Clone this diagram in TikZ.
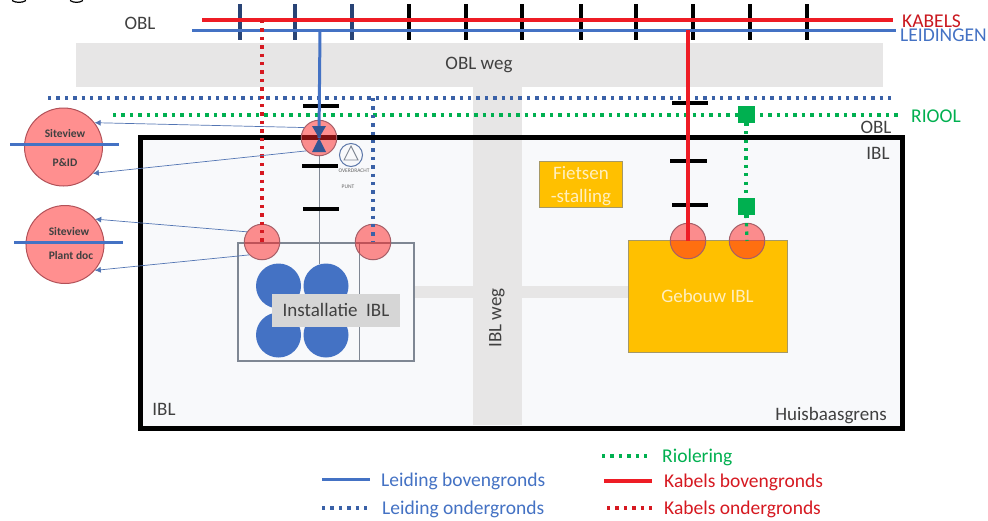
\documentclass[tikz,border=0pt]{standalone}
\usepackage{fontspec}
\setmainfont{Carlito}
\usetikzlibrary{arrows.meta}
\definecolor{cblue}{HTML}{4472C4}
\definecolor{cred}{HTML}{EE1C25}
\definecolor{cgreen}{HTML}{00B050}
\definecolor{croad}{HTML}{E7E6E6}
\definecolor{cgold}{HTML}{FFC000}
\definecolor{cpink}{HTML}{FF8F8F}
\definecolor{chub}{HTML}{FF2020}
\definecolor{ctext}{HTML}{404040}
\definecolor{cedge}{HTML}{7F8793}
\definecolor{cyard}{HTML}{F8F9FB}
\tikzset{
 x=1pt,y=-1pt,
 road/.style={fill=croad,draw=none,inner sep=0},
 lab/.style={font=\fontsize{19}{19}\selectfont,text=ctext,inner sep=0},
 solidblue/.style={draw=cblue,line width=3pt},
 solidred/.style={draw=cred,line width=3.4pt},
 dotline/.style={line width=3.3pt,dash pattern=on 3.3pt off 5.1pt},
 dotblue/.style={dotline,draw=cblue!85!black},
 dotred/.style={dotline,draw=cred!90!black},
 dotgreen/.style={dotline,draw=cgreen},
 bar/.style={draw=black,line width=3.4pt},
 blbar/.style={draw=cblue!60!black,line width=3.4pt},
 hub/.style={circle,draw=cedge!70!red,line width=1pt,fill=chub,fill opacity=.5,draw opacity=1,minimum size=35.5pt,inner sep=0},
 side/.style={circle,draw=cedge!60!red,line width=1pt,fill=cpink,minimum size=78pt,inner sep=0},
 sitelink/.style={draw=cblue!75!gray,line width=.7pt,-{Latex[length=6pt,width=6pt]}},
 sitetxt/.style={font=\bfseries\fontsize{11.5}{12}\selectfont,text=ctext,inner sep=0},
 legendtxt/.style={font=\fontsize{19.5}{20}\selectfont,inner sep=0,anchor=west},
 goldbox/.style={fill=cgold,draw=cedge!70!cgold,line width=.8pt,inner sep=0},
 paletxt/.style={font=\fontsize{19}{19}\selectfont,text=white!75!cgold,inner sep=0},
 greenbox/.style={fill=cgreen,draw=none,minimum size=17pt,inner sep=0}
}
\begin{document}
\begin{tikzpicture}
\useasboundingbox (0,0) rectangle (988,520);
\fill[white] (0,0) rectangle (988,520);
% clipped descenders at the top edge
\draw[line width=1.2pt] (12,0.5) .. controls (16,3) and (22,3) .. (26,0.5);
\draw[line width=1.2pt] (70,0.5) .. controls (74,3) and (79,3) .. (83,0.5);
% roads
\node[road,minimum width=807pt,minimum height=44pt,anchor=north west] (oblweg) at (76,43) {};
\node[lab] (oblwegtxt) at (479,65) {OBL weg};
% yard
\draw[line width=5pt,fill=cyard] (140,137) rectangle (902,428);
\node[road,minimum width=49pt,minimum height=339pt,anchor=north west] (iblweg) at (473,86) {};
\node[road,minimum width=213pt,minimum height=12pt,anchor=north west] (conn) at (415,286) {};
\draw[line width=5pt] (473,137) -- (522,137);
\node[lab,rotate=90] (iblwegtxt) at (497,318) {IBL weg};
% top ticks
\foreach \x/\s in {240/blbar,295/blbar,352/blbar,409/bar,466/bar,522/bar,581/bar,636/bar,693/bar,750/bar,807/bar}
  \draw[\s] (\x,4) -- (\x,40);
\coordinate (kl) at (202,20); \coordinate (kr) at (893,20);
\coordinate (ll) at (192,30); \coordinate (lr) at (896,30);
\draw[solidred] (kl) -- (kr);
\draw[solidblue] (ll) -- (lr);
\node[lab] (t1) at (140,23) {OBL};
\node[legendtxt,text=cred!85!black] (t2) at (902,21) {KABELS};
\node[legendtxt,text=cblue] (t3) at (900,35) {LEIDINGEN};
\node[legendtxt,text=cgreen] (t4) at (911,116) {RIOOL};
\node[lab] (t5) at (876,127) {OBL};
\node[lab] (t6) at (878,153) {IBL};
\node[lab] (t7) at (164,409) {IBL};
\node[lab] (t8) at (831,416) {Huisbaasgrens};
% underground horizontals
\coordinate (bdl) at (48,98); \coordinate (bdr) at (896,98);
\coordinate (gdl) at (113,115); \coordinate (gdr) at (900,115);
\draw[dotblue] (bdl) -- (bdr);
\draw[dotgreen] (gdl) -- (gdr);
% install
\draw[draw=cedge,line width=1.2pt] (238,243) rectangle (414,361);
\draw[draw=cedge,line width=.7pt] (359,243) -- (359,361);
\foreach \a/\b in {278.5/286,326/286,278.5/335,326/335}
  \fill[cblue] (\a,\b) circle (22.5);
\draw[draw=cedge,line width=.7pt] (319,155) -- (319,264);
\node[fill=black!16,minimum width=128pt,minimum height=33pt,lab] (inst) at (336,310) {Installatie\ \ IBL};
% building
\node[goldbox,minimum width=159pt,minimum height=112pt,paletxt] (geb) at (707.5,296) {Gebouw IBL};
\node[goldbox,minimum width=83pt,minimum height=46pt] (fiets) at (580.5,184) {};
\node[paletxt] (f1) at (581,173) {Fietsen};
\node[paletxt] (f2) at (581,198) {-stalling};
% hubs
\node[hub] (h1) at (319,138) {};
\node[hub] (h2) at (262,242) {};
\node[hub] (h3) at (373,242) {};
\node[hub] (h4) at (688,241) {};
\node[hub] (h5) at (747,241) {};
% bars
\draw[bar] (303,106) -- (339,106);
\draw[bar] (302,166) -- (338,166);
\draw[bar] (303,209) -- (339,209);
\draw[bar] (672,103) -- (708,103);
\draw[bar] (670,161) -- (707,161);
\draw[bar] (672,205) -- (708,205);
% vertical connectors
\coordinate (rdtop) at (262,20);
\coordinate (bstop) at (320,30);
\coordinate (bdtop) at (373,98);
\coordinate (rstop) at (688,30);
\draw[dotred,line width=3.6pt] (rdtop) -- (h2.center);
\draw[dotblue] (bdtop) -- (h3.center);
\draw[solidblue] (bstop) -- (h1.center);
\draw[solidred] (rstop) -- (h4.center);
% valve
\fill[cblue!75!black] (319,138) -- (312,126) -- (326,126) -- cycle;
\fill[cblue!75!black] (319,138) -- (312,152) -- (326,152) -- cycle;
% sewer
\node[greenbox] (g1) at (746,114) {};
\node[greenbox] (g2) at (746,206) {};
\fill[cgreen] (744,122) rectangle (749,126);
\fill[cgreen] (744,214) rectangle (749,218);
\draw[dotgreen] (g1) -- (g2);
\draw[dotgreen] (g2) -- (h5.center);
% logo
\node[circle,draw=cblue!60!gray,line width=1pt,minimum size=23pt,inner sep=0] (logo) at (351,155) {};
\draw[draw=cedge,line width=.9pt] (351,146) -- (344,160) -- (358,160) -- cycle;
\node[font=\fontsize{5.5}{6}\selectfont,text=ctext!80,inner sep=0] (l1) at (354,171) {OVERDRACHT};
\node[font=\fontsize{5.5}{6}\selectfont,text=ctext!80,inner sep=0] (l2) at (348,187) {PUNT};
% side circles
\node[side] (s1) at (63.5,147) {};
\node[side] (s2) at (65,244.5) {};
\node[sitetxt] (s1a) at (65,134) {Siteview};
\node[sitetxt] (s1b) at (65,163) {P\&ID};
\node[sitetxt] (s2a) at (69,232) {Siteview};
\node[sitetxt] (s2b) at (71,256) {Plant doc};
\coordinate (b1l) at (10,144); \coordinate (b1r) at (119,144);
\coordinate (b2l) at (14,242); \coordinate (b2r) at (123,242);
\draw[solidblue] (b1l) -- (b1r);
\draw[solidblue] (b2l) -- (b2r);
\draw[sitelink] (h1.145) -- (s1.38);
\draw[sitelink] (h1.225) -- (s1.-42);
\draw[sitelink] (h2.146) -- (s2.40);
\draw[sitelink] (h2.225) -- (s2.-41);
% legend
\coordinate (e1a) at (602,456); \coordinate (e1b) at (650,456);
\coordinate (e2a) at (604,481); \coordinate (e2b) at (652,481);
\coordinate (e3a) at (607,508); \coordinate (e3b) at (652,508);
\coordinate (e4a) at (322,479); \coordinate (e4b) at (370,479);
\coordinate (e5a) at (322,508); \coordinate (e5b) at (370,508);
\draw[dotgreen] (e1a) -- (e1b);
\draw[solidred] (e2a) -- (e2b);
\draw[dotred] (e3a) -- (e3b);
\draw[solidblue] (e4a) -- (e4b);
\draw[dotblue] (e5a) -- (e5b);
\node[legendtxt,text=cgreen] (n1) at (662,457) {Riolering};
\node[legendtxt,text=cred!90!black] (n2) at (664,482) {Kabels bovengronds};
\node[legendtxt,text=cred!90!black] (n3) at (664,509) {Kabels ondergronds};
\node[legendtxt,text=cblue] (n4) at (381,481) {Leiding bovengronds};
\node[legendtxt,text=cblue] (n5) at (382,509) {Leiding ondergronds};
\end{tikzpicture}
\end{document}
